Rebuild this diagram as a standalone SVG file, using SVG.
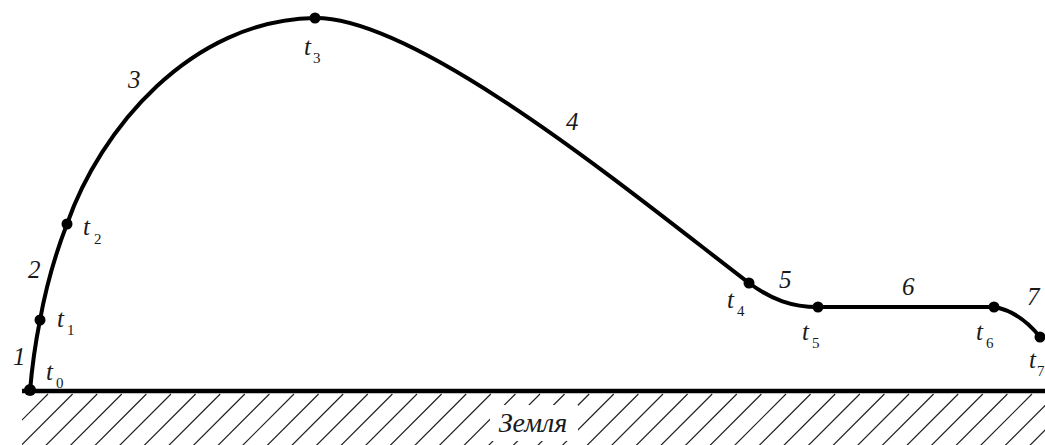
<svg xmlns="http://www.w3.org/2000/svg" width="1045" height="445" viewBox="0 0 1045 445">
  <style>
    .lbl { font-family: "Liberation Serif", "DejaVu Serif", serif; font-style: italic; font-size: 25px; fill: #1a1a1a; }
    .sub { font-family: "Liberation Serif", "DejaVu Serif", serif; font-style: normal; font-size: 15px; fill: #1a1a1a; }
    .curve { fill: none; stroke: #000; stroke-width: 4; stroke-linejoin: round; stroke-linecap: round; }
    .dot { fill: #000; }
    .hatch { fill: none; stroke: #222; stroke-width: 1.2; }
  </style>
  <defs>
    <clipPath id="groundClip">
      <rect x="22" y="393" width="1023" height="52"/>
    </clipPath>
  </defs>
  <rect width="1045" height="445" fill="#fff"/>

  <g id="ground">
    <g clip-path="url(#groundClip)">
      <path class="hatch" d="M48,394 l-52,52 M72.6,394 l-52,52 M97.2,394 l-52,52 M121.8,394 l-52,52 M146.4,394 l-52,52 M171,394 l-52,52 M195.6,394 l-52,52 M220.2,394 l-52,52 M244.8,394 l-52,52 M269.4,394 l-52,52 M294,394 l-52,52 M318.6,394 l-52,52 M343.2,394 l-52,52 M367.8,394 l-52,52 M392.4,394 l-52,52 M417,394 l-52,52 M441.6,394 l-52,52 M466.2,394 l-52,52 M490.8,394 l-52,52 M515.4,394 l-52,52 M540,394 l-52,52 M564.6,394 l-52,52 M589.2,394 l-52,52 M613.8,394 l-52,52 M638.4,394 l-52,52 M663,394 l-52,52 M687.6,394 l-52,52 M712.2,394 l-52,52 M736.8,394 l-52,52 M761.4,394 l-52,52 M786,394 l-52,52 M810.6,394 l-52,52 M835.2,394 l-52,52 M859.8,394 l-52,52 M884.4,394 l-52,52 M909,394 l-52,52 M933.6,394 l-52,52 M958.2,394 l-52,52 M982.8,394 l-52,52 M1007.4,394 l-52,52 M1032,394 l-52,52 M1056.6,394 l-52,52 M1081.2,394 l-52,52"/>
    </g>
    <rect x="490" y="405" width="88" height="36" fill="#fff"/>
    <line x1="22" y1="391" x2="1045" y2="391" stroke="#000" stroke-width="4.5"/>
    <text class="lbl" x="533" y="432" text-anchor="middle" style="font-size:28px">Земля</text>
  </g>

  <g id="connectors">
    <path id="seg1" class="curve" d="M30,391 Q33,355 40,320"/>
    <path id="seg2" class="curve" d="M40,320 C46,287 55,255 67,224"/>
    <path id="seg3" class="curve" d="M67,224 C100,130 190,20 315,18"/>
    <path id="seg4" class="curve" d="M315,18 C420,17 640,200 749,283"/>
    <path id="seg5" class="curve" d="M749,283 C772,300 792,307 818,307"/>
    <path id="seg6" class="curve" d="M818,307 L994,307"/>
    <path id="seg7" class="curve" d="M994,307 C1012,310 1028,322 1040,337"/>
    <text class="lbl" x="13" y="365">1</text>
    <text class="lbl" x="28" y="278">2</text>
    <text class="lbl" x="128" y="88">3</text>
    <text class="lbl" x="566" y="130">4</text>
    <text class="lbl" x="779" y="288">5</text>
    <text class="lbl" x="902" y="295">6</text>
    <text class="lbl" x="1027" y="305">7</text>
  </g>

  <g id="t0"><circle class="dot" cx="30" cy="390" r="6"/><text class="lbl" x="46" y="380">t</text><text class="sub" x="56" y="388">0</text></g>
  <g id="t1"><circle class="dot" cx="40" cy="320" r="5.5"/><text class="lbl" x="57" y="327">t</text><text class="sub" x="67" y="335">1</text></g>
  <g id="t2"><circle class="dot" cx="67" cy="224" r="5.5"/><text class="lbl" x="83" y="235">t</text><text class="sub" x="94" y="244">2</text></g>
  <g id="t3"><circle class="dot" cx="315" cy="18" r="5.5"/><text class="lbl" x="304" y="55">t</text><text class="sub" x="313" y="63">3</text></g>
  <g id="t4"><circle class="dot" cx="749" cy="283" r="5.5"/><text class="lbl" x="727" y="308">t</text><text class="sub" x="737" y="316">4</text></g>
  <g id="t5"><circle class="dot" cx="818" cy="307" r="5.5"/><text class="lbl" x="802" y="340">t</text><text class="sub" x="812" y="348">5</text></g>
  <g id="t6"><circle class="dot" cx="994" cy="307" r="5.5"/><text class="lbl" x="976" y="340">t</text><text class="sub" x="986" y="348">6</text></g>
  <g id="t7"><circle class="dot" cx="1040" cy="337" r="5.5"/><text class="lbl" x="1029" y="368">t</text><text class="sub" x="1037" y="376">7</text></g>
</svg>
